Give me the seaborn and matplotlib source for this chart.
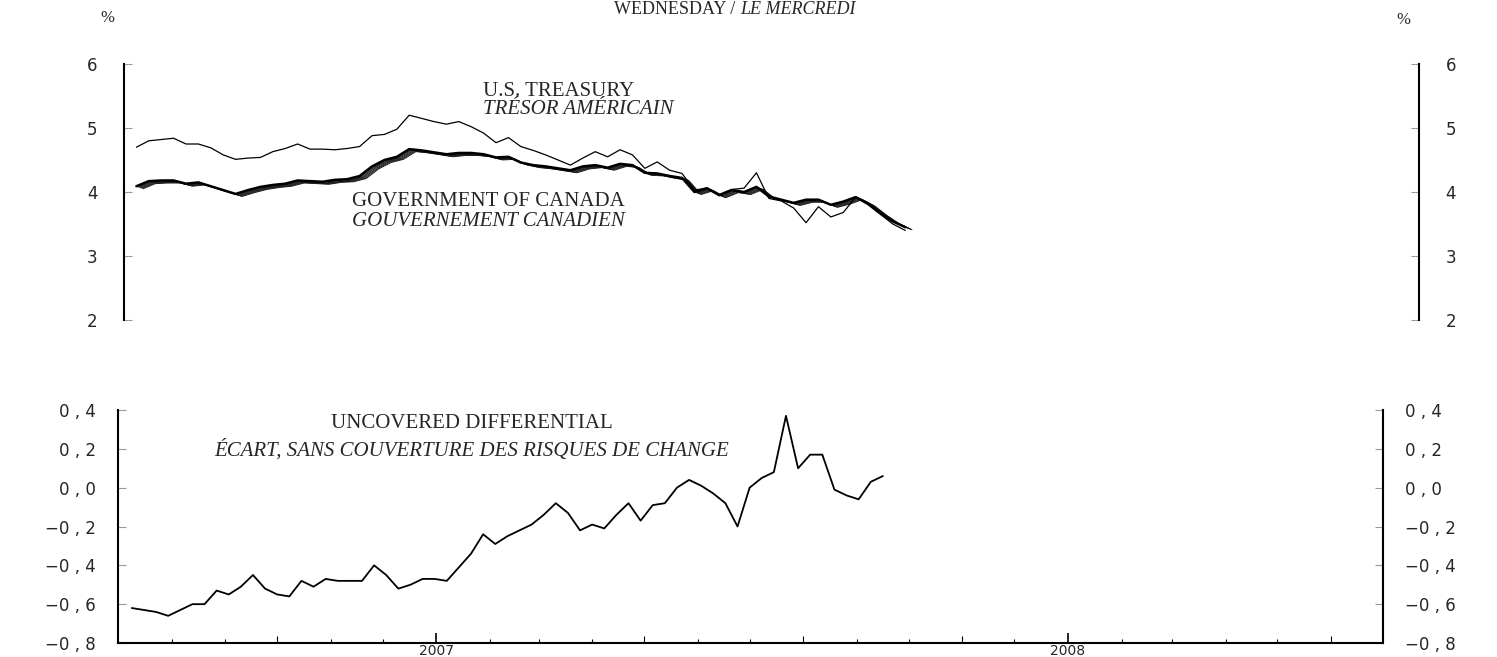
import matplotlib.patheffects as pe
import matplotlib.pyplot as plt
import pandas as pd
import seaborn as sns

# weekly yields (%), Wednesday readings
US_TREASURY = [
    4.70, 4.80, 4.82, 4.84, 4.75, 4.75, 4.69, 4.58, 4.51, 4.53,
    4.54, 4.63, 4.68, 4.75, 4.67, 4.67, 4.66, 4.68, 4.71, 4.88,
    4.90, 4.98, 5.20, 5.15, 5.10, 5.06, 5.10, 5.02, 4.92, 4.77,
    4.85, 4.71, 4.65, 4.58, 4.50, 4.42, 4.53, 4.63, 4.55, 4.66,
    4.58, 4.37, 4.47, 4.34, 4.29, 4.03, 4.06, 3.96, 4.04, 4.06,
    4.30, 3.90, 3.86, 3.75, 3.52, 3.77, 3.61, 3.68, 3.92, 3.80,
    3.65, 3.50, 3.40,
]
GOV_CANADA = [
    4.09, 4.17, 4.18, 4.18, 4.13, 4.15, 4.09, 4.03, 3.97, 4.03,
    4.08, 4.11, 4.13, 4.18, 4.17, 4.16, 4.19, 4.20, 4.25, 4.40,
    4.50, 4.55, 4.67, 4.65, 4.62, 4.59, 4.61, 4.61, 4.59, 4.54,
    4.55, 4.46, 4.42, 4.40, 4.37, 4.34, 4.40, 4.42, 4.38, 4.44,
    4.42, 4.30, 4.29, 4.25, 4.22, 4.00, 4.06, 3.95, 4.03, 4.00,
    4.08, 3.93, 3.88, 3.83, 3.88, 3.88, 3.80, 3.85, 3.92, 3.82,
    3.67, 3.54, 3.45,
]
DIFFERENTIAL = [
    -0.62, -0.63, -0.64, -0.66, -0.63, -0.60, -0.60, -0.53, -0.55, -0.51,
    -0.45, -0.52, -0.55, -0.56, -0.48, -0.51, -0.47, -0.48, -0.48, -0.48,
    -0.40, -0.45, -0.52, -0.50, -0.47, -0.47, -0.48, -0.41, -0.34, -0.24,
    -0.29, -0.25, -0.22, -0.19, -0.14, -0.08, -0.13, -0.22, -0.19, -0.21,
    -0.14, -0.08, -0.17, -0.09, -0.08, 0.00, 0.04, 0.01, -0.03, -0.08,
    -0.20, 0.00, 0.05, 0.08, 0.37, 0.10, 0.17, 0.17, -0.01, -0.04,
    -0.06, 0.03, 0.06,
]

TOP_TICKS = [2, 3, 4, 5, 6]
BOTTOM_TICKS = [-0.8, -0.6, -0.4, -0.2, 0.0, 0.2, 0.4]
BOTTOM_LABELS = ["−0 , 8", "−0 , 6", "−0 , 4", "−0 , 2", "0 , 0", "0 , 2", "0 , 4"]
YEAR_LABELS = ["2007", "2008"]

top = pd.DataFrame({
    "date": pd.date_range("2006-07-08", periods=len(US_TREASURY), freq="7D"),
    "us": US_TREASURY,
    "canada": GOV_CANADA,
})
bottom = pd.DataFrame({
    "date": pd.date_range("2006-07-09", periods=len(DIFFERENTIAL), freq="7D"),
    "diff": DIFFERENTIAL,
})

sns.set_style("white")
plt.rcParams["font.family"] = ["Liberation Serif", "DejaVu Sans"]

W, H = 1497, 657
fig = plt.figure(figsize=(W / 100, H / 100), dpi=100)


def rect(x0, y0, x1, y1):
    return [x0 / W, 1 - y1 / H, (x1 - x0) / W, (y1 - y0) / H]


def px(x, y):
    return x / W, 1 - y / H


xlim = (pd.Timestamp("2006-07-01"), pd.Timestamp("2008-07-01"))
tick_font = {"family": "DejaVu Sans", "size": 12}

# ---- top panel: yields
ax1 = fig.add_axes(rect(124, 64, 1419, 320))
band = [pe.Stroke(offset=(0.8 * i, -0.3 * i), linewidth=0.7, foreground="#1a1a1a")
        for i in range(1, 7)] + [pe.Normal()]
sns.lineplot(data=top, x="date", y="canada", ax=ax1, color="black",
             linewidth=1.8, path_effects=band)
sns.lineplot(data=top, x="date", y="us", ax=ax1, color="black", linewidth=0.9)
ax1.set_xlim(*xlim)
ax1.set_ylim(2, 6)
ax1.set_yticks(TOP_TICKS)
ax1.set_yticklabels([str(t) for t in TOP_TICKS], fontdict=tick_font)
ax1.tick_params(axis="y", left=True, right=True, labelleft=True, labelright=True,
                direction="in", length=6, width=0.8, color="#999999", pad=19)
ax1.tick_params(axis="x", bottom=False, labelbottom=False)
ax1.set_xlabel("")
ax1.set_ylabel("")
for side in ["top", "bottom"]:
    ax1.spines[side].set_visible(False)
for side in ["left", "right"]:
    ax1.spines[side].set_color("black")
    ax1.spines[side].set_linewidth(1.5)

# ---- bottom panel: differential
ax2 = fig.add_axes(rect(118, 410, 1383, 643))
sns.lineplot(data=bottom, x="date", y="diff", ax=ax2, color="black", linewidth=1.3)
ax2.set_xlim(*xlim)
ax2.set_ylim(-0.8, 0.4)
ax2.set_yticks(BOTTOM_TICKS)
ax2.set_yticklabels(BOTTOM_LABELS, fontdict=tick_font)
ax2.tick_params(axis="y", left=True, right=True, labelleft=True, labelright=True,
                direction="in", length=6, width=0.8, color="#999999", pad=16)
ax2.set_xticks([pd.Timestamp(f"{y}-01-01") for y in YEAR_LABELS])
ax2.set_xticklabels(YEAR_LABELS, fontdict={"family": "DejaVu Sans", "size": 10})
months = pd.date_range("2006-08-01", "2008-06-01", freq="MS")
ax2.set_xticks(months, minor=True)
ax2.tick_params(axis="x", which="major", direction="in", length=7, width=1.2,
                color="black", pad=1, bottom=True)
ax2.tick_params(axis="x", which="minor", direction="in", length=3, width=0.8,
                color="black", bottom=True)
for tick, loc in zip(ax2.xaxis.get_minor_ticks(), months):
    if loc.month in (4, 7, 10):
        tick.tick1line.set_markersize(5)
ax2.set_xlabel("")
ax2.set_ylabel("")
ax2.spines["top"].set_visible(False)
for side in ["left", "right", "bottom"]:
    ax2.spines[side].set_color("black")
    ax2.spines[side].set_linewidth(1.5)

# ---- texts
fig.text(*px(740, 14), "WEDNESDAY / ", ha="right", va="baseline", fontsize=13)
fig.text(*px(740, 14), "LE MERCREDI", ha="left", va="baseline", fontsize=13,
         style="italic")
fig.text(*px(107, 18), "%", ha="center", va="center", fontsize=12)
fig.text(*px(1403, 20), "%", ha="center", va="center", fontsize=12)

fig.text(*px(483, 92), "U.S. TREASURY", ha="left", va="center", fontsize=15)
fig.text(*px(483, 109), "TRÉSOR AMÉRICAIN", ha="left", va="center", fontsize=15,
         style="italic")
fig.text(*px(352, 202), "GOVERNMENT OF CANADA", ha="left", va="center", fontsize=15)
fig.text(*px(352, 221), "GOUVERNEMENT CANADIEN", ha="left", va="center",
         fontsize=15, style="italic")
fig.text(*px(472, 424), "UNCOVERED DIFFERENTIAL", ha="center", va="center",
         fontsize=15)
fig.text(*px(472, 450), "ÉCART, SANS COUVERTURE DES RISQUES DE CHANGE",
         ha="center", va="center", fontsize=15, style="italic")

fig.savefig("out.png", dpi=100)
plt.close(fig)
